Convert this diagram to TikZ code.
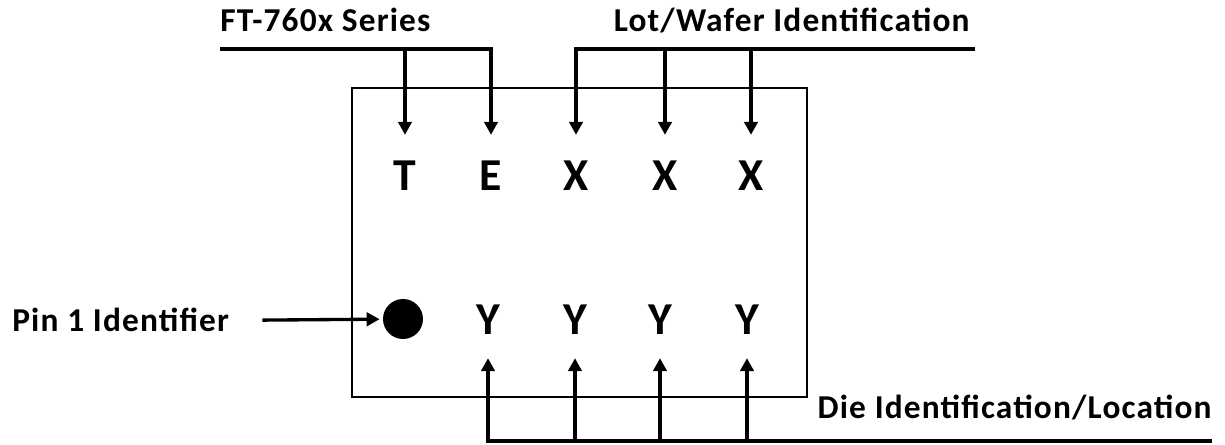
\documentclass[tikz,border=0pt]{standalone}
\usepackage{fontspec}
\setsansfont{Carlito}
\usetikzlibrary{arrows.meta,positioning}

\begin{document}
\begin{tikzpicture}[
  x=0.02cm, y=-0.02cm,
  font=\sffamily\bfseries,
  caption/.style={font=\sffamily\bfseries\fontsize{19}{21}\selectfont\addfontfeatures{LetterSpace=3.5}, inner sep=0pt},
  glyph/.style={font=\sffamily\bfseries\fontsize{26}{28}\selectfont\addfontfeatures{LetterSpace=3}, inner sep=0pt},
  bus/.style={line width=1.9pt},
  pointer/.style={bus, -{Triangle[length=7.4pt, width=7.6pt]}},
  topfeed/.style={pointer, shorten >=0.52cm},
  lowfeed/.style={pointer, shorten >=0.46cm}
]
\useasboundingbox (0,0) rectangle (1225,445);

\draw[line width=0.75pt] (352,88) rectangle (807,397);

\node[glyph] (t1) at (405,176) {T};
\node[glyph] (e1) at (491,176) {E};
\node[glyph] (x1) at (576,176) {X};
\node[glyph] (x2) at (665,176) {X};
\node[glyph] (x3) at (751,176) {X};

\node[circle, fill, inner sep=0pt, minimum size=0.8cm] (pin) at (403,319) {};
\node[glyph] (y1) at (488,320) {Y};
\node[glyph] (y2) at (575,320) {Y};
\node[glyph] (y3) at (660,320) {Y};
\node[glyph] (y4) at (747,320) {Y};

\node[caption, anchor=base west] (series) at (220,32) {FT-760x Series};
\node[caption, anchor=base east] (lot) at (970,32) {Lot/Wafer Identification};
\node[caption, anchor=base west] (pinlabel) at (12,332) {Pin 1 Identifier};
\node[caption, anchor=base east] (die) at (1212,419) {Die Identification/Location};

\coordinate (serstart) at (220,49);
\coordinate (lotstart) at (975,49);
\coordinate (diestart) at (1212,441);

\draw[topfeed] (serstart) -| (e1);
\draw[topfeed] (t1 |- serstart) -- (t1);
\draw[topfeed] (lotstart) -| (x1);
\draw[topfeed] (x2 |- lotstart) -- (x2);
\draw[topfeed] (x3 |- lotstart) -- (x3);

\draw[lowfeed] (diestart) -| (y1);
\draw[lowfeed] (y2 |- diestart) -- (y2);
\draw[lowfeed] (y3 |- diestart) -- (y3);
\draw[lowfeed] (y4 |- diestart) -- (y4);

\draw[pointer, shorten <=0.66cm, shorten >=0.06cm] (pinlabel.east) -- (pin);

\end{tikzpicture}
\end{document}
